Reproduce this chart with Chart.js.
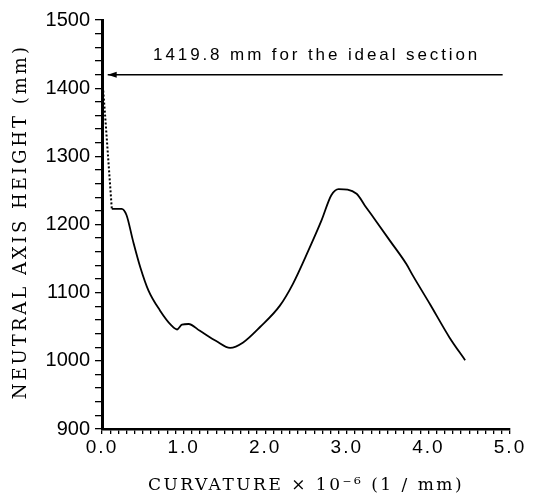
<!DOCTYPE html>
<html>
<head>
<meta charset="utf-8">
<script src="https://cdn.jsdelivr.net/npm/chart.js@4/dist/chart.umd.min.js"></script>
<style>
  html, body { margin: 0; padding: 0; background: #fff; }
  #wrap { width: 534px; height: 500px; position: relative; }
</style>
</head>
<body>
<div id="wrap"><canvas id="c" width="534" height="500"></canvas></div>
<script>
// ---- data ----
const curvature = [0.12, 0.24, 0.30, 0.38, 0.47, 0.57, 0.71, 0.85, 0.92, 0.98, 1.06, 1.20, 1.40, 1.57, 1.73, 1.94, 2.18, 2.34, 2.53, 2.69, 2.81, 2.90, 3.12, 3.22, 3.37, 3.53, 3.73, 3.81, 4.02, 4.26, 4.45];
const naHeight  = [1223, 1223, 1214, 1176, 1137, 1103, 1074, 1052, 1046, 1053, 1054, 1044, 1029, 1019, 1027, 1050, 1081, 1113, 1162, 1206, 1243, 1252, 1245, 1228, 1203, 1176, 1142, 1125, 1083, 1034, 1001];
const dottedX = [0.0, 0.04, 0.12];
const dottedY = [1419.8, 1357, 1223];
const idealValue = 1419.8;
const idealLineX = [0.07, 4.91];
const idealLabel = '1419.8 mm for the ideal section';
const idealLabelPos = {x: 2.63, y: 1448};
const xTickLabels = ['0.0', '1.0', '2.0', '3.0', '4.0', '5.0'];
const yTickLabels = ['900', '1000', '1100', '1200', '1300', '1400', '1500'];
const xTitle = 'CURVATURE \u00d7 10\u207b\u2076 (1 / mm)';
const yTitle = '\u2003 NEUTRAL AXIS HEIGHT (mm)';

const toPts = (xs, ys) => xs.map((x, i) => ({x: x, y: ys[i]}));

// per-scale letter spacing for tick labels and titles
function patchSpacing(s, labelSp, titleSp) {
  if (s._spPatched) return;
  s._spPatched = true;
  const dl = s.drawLabels, dt = s.drawTitle;
  s.drawLabels = function (a) { const c = this.ctx; c.save(); c.letterSpacing = labelSp; dl.call(this, a); c.restore(); };
  s.drawTitle = function (a) { const c = this.ctx; c.save(); c.letterSpacing = titleSp; dt.call(this, a); c.restore(); };
}

const annotationPlugin = {
  id: 'ideal',
  afterDatasetsDraw(chart) {
    const {ctx, scales} = chart;
    const xs = scales.x, ys = scales.y;
    const tipX = xs.getPixelForValue(idealLineX[0]);
    const yy = ys.getPixelForValue(idealValue);
    ctx.save();
    ctx.fillStyle = '#000';
    ctx.beginPath();
    ctx.moveTo(tipX, yy);
    ctx.lineTo(tipX + 9, yy - 3);
    ctx.lineTo(tipX + 9, yy + 3);
    ctx.closePath();
    ctx.fill();
    ctx.letterSpacing = '2.9px';
    ctx.font = '17px "Liberation Sans", Arial, sans-serif';
    ctx.textAlign = 'center';
    ctx.textBaseline = 'middle';
    ctx.fillText(idealLabel, xs.getPixelForValue(idealLabelPos.x), ys.getPixelForValue(idealLabelPos.y));
    ctx.restore();
  }
};

new Chart(document.getElementById('c'), {
  type: 'line',
  data: {
    datasets: [
      {
        data: toPts(curvature, naHeight),
        borderColor: '#000', borderWidth: 1.8, pointRadius: 0,
        cubicInterpolationMode: 'monotone', fill: false
      },
      {
        data: toPts(dottedX, dottedY),
        borderColor: '#000', borderWidth: 2, borderDash: [2, 2],
        pointRadius: 0, tension: 0, fill: false
      },
      {
        data: toPts(idealLineX, idealLineX.map(() => idealValue)),
        borderColor: '#000', borderWidth: 1.5, pointRadius: 0, tension: 0, fill: false
      }
    ]
  },
  options: {
    responsive: false,
    animation: false,
    devicePixelRatio: 1,
    layout: { padding: { left: 0, top: 20, right: 24, bottom: 0 } },
    plugins: { legend: { display: false }, tooltip: { enabled: false } },
    scales: {
      x: {
        type: 'linear', min: 0, max: 5,
        afterFit(s) { s.height = 71; patchSpacing(s, '2px', '2.5px'); },
        border: { display: true, color: '#000', width: 2.5 },
        grid: { display: true, drawOnChartArea: false, drawTicks: true, tickLength: 5, color: '#000', lineWidth: 1.3 },
        ticks: {
          stepSize: 0.1, autoSkip: false, maxRotation: 0, padding: 2, color: '#000',
          font: { family: '"Liberation Sans", Arial, sans-serif', size: 19 },
          callback(v) {
            const i = Math.round(v);
            return Math.abs(v - i) < 1e-6 ? xTickLabels[i] : '';
          }
        },
        title: {
          display: true, text: xTitle, color: '#000',
          font: { family: '"DejaVu Serif", "Liberation Serif", serif', size: 17 },
          padding: { top: 0, bottom: 4 }
        }
      },
      y: {
        type: 'linear', min: 900, max: 1500,
        afterFit(s) { s.width = 102; patchSpacing(s, '0px', '3px'); },
        border: { display: true, color: '#000', width: 3 },
        grid: { display: true, drawOnChartArea: false, drawTicks: true, tickLength: 7, color: '#000', lineWidth: 1.3 },
        ticks: {
          stepSize: 20, autoSkip: false, padding: 5, color: '#000',
          font: { family: '"Liberation Sans", Arial, sans-serif', size: 20 },
          callback(v) {
            const i = Math.round((v - 900) / 100);
            return Math.abs(v - 900 - i * 100) < 1e-6 ? yTickLabels[i] : '';
          }
        },
        title: {
          display: true, text: yTitle, color: '#000', align: 'start',
          font: { family: '"DejaVu Serif", "Liberation Serif", serif', size: 18 },
          padding: { top: 11, bottom: 0 }
        }
      }
    }
  },
  plugins: [annotationPlugin]
});
</script>
</body>
</html>
